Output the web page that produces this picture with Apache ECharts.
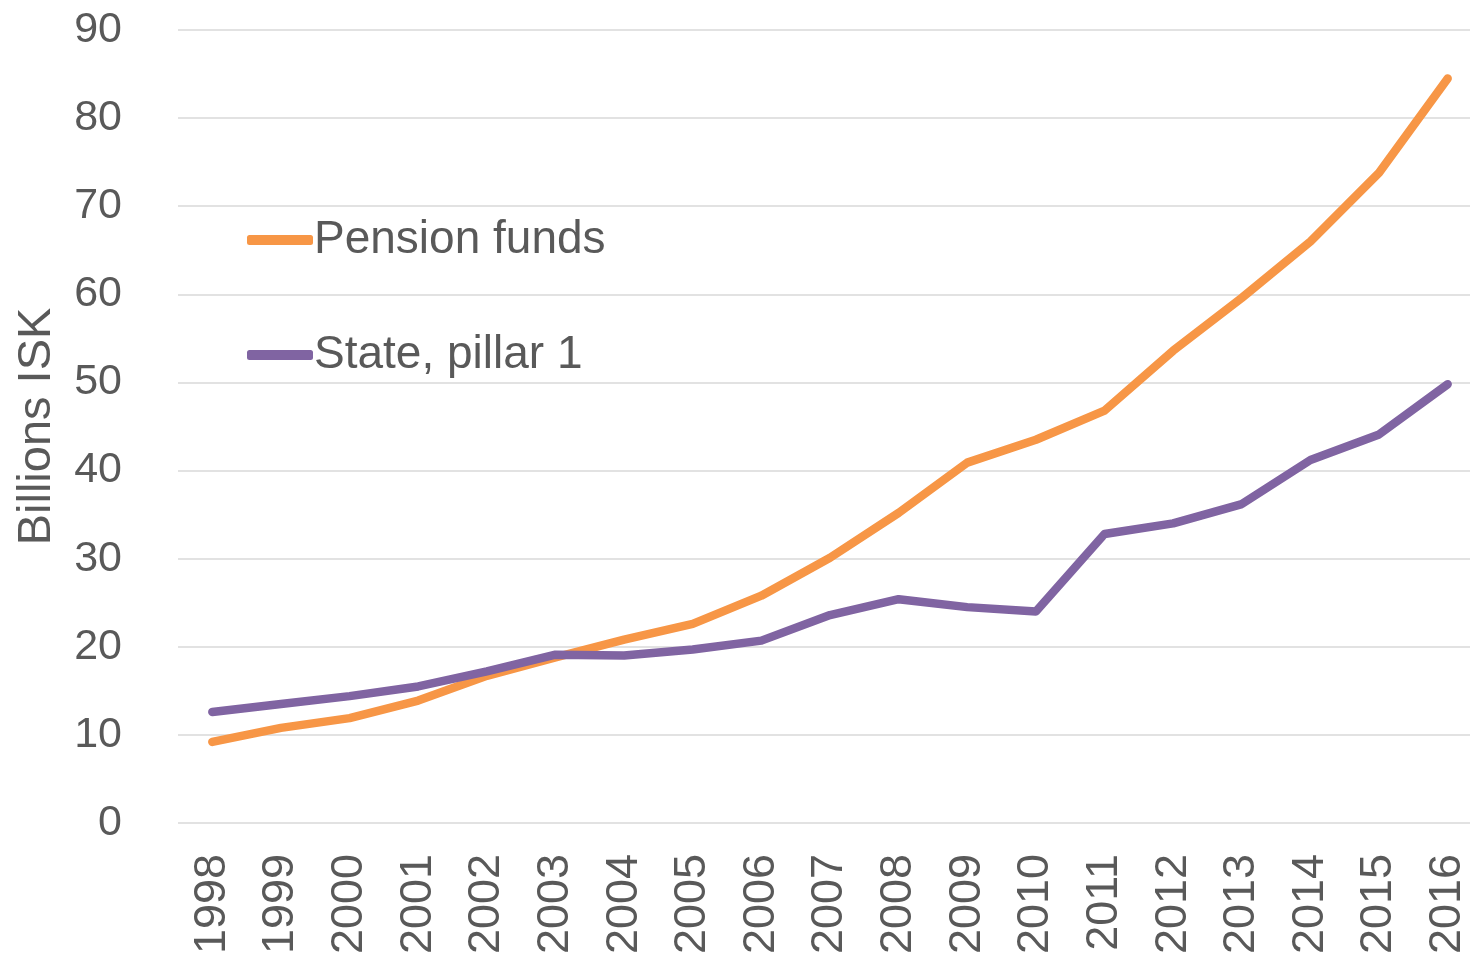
<!DOCTYPE html>
<html>
<head>
<meta charset="utf-8">
<script src="https://cdn.jsdelivr.net/npm/echarts@6/dist/echarts.min.js"></script>
<style>
html,body{margin:0;padding:0;background:#fff;}
#chart{width:1470px;height:961px;}
</style>
</head>
<body>
<div id="chart"></div>
<script>
const years = ['1998','1999','2000','2001','2002','2003','2004','2005','2006','2007','2008','2009','2010','2011','2012','2013','2014','2015','2016'];
const pensionFunds = [9.2, 10.8, 11.9, 13.9, 16.7, 18.8, 20.8, 22.6, 25.8, 30.1, 35.2, 40.9, 43.5, 46.8, 53.6, 59.6, 66.0, 73.8, 84.5];
const statePillar1 = [12.6, 13.5, 14.4, 15.5, 17.2, 19.1, 19.0, 19.7, 20.7, 23.6, 25.4, 24.5, 24.0, 32.8, 34.0, 36.2, 41.2, 44.1, 49.8];
const yTicks = { min: 0, max: 90, interval: 10 };

const FONT = 'Liberation Sans, Arial, sans-serif';
const chart = echarts.init(document.getElementById('chart'));
chart.setOption({
  animation: false,
  backgroundColor: '#ffffff',
  grid: { left: 178, right: -12, top: 30, bottom: 138, containLabel: false, outerBoundsMode: 'none' },
  legend: {
    orient: 'vertical',
    left: 242,
    top: 212,
    itemGap: 69,
    itemWidth: 66,
    itemHeight: 10,
    icon: 'roundRect',
    textStyle: { fontFamily: FONT, fontSize: 46, color: '#595959', padding: [0, 0, 0, -4] },
    data: ['Pension funds', 'State, pillar 1']
  },
  xAxis: {
    type: 'category',
    data: years,
    boundaryGap: true,
    axisLine: { show: false },
    axisTick: { show: false },
    axisLabel: {
      rotate: 90,
      margin: 31,
      interval: 0,
      fontFamily: FONT,
      fontSize: 45,
      color: '#595959'
    }
  },
  yAxis: {
    type: 'value',
    min: yTicks.min,
    max: yTicks.max,
    interval: yTicks.interval,
    name: 'Billions ISK',
    nameLocation: 'middle',
    nameRotate: 90,
    nameGap: 117,
    nameTextStyle: { fontFamily: FONT, fontSize: 47, color: '#595959' },
    axisLine: { show: false },
    axisTick: { show: false },
    axisLabel: {
      margin: 56,
      fontFamily: FONT,
      fontSize: 43,
      color: '#595959'
    },
    splitLine: { lineStyle: { color: '#D9D9D9', width: 1.5 } }
  },
  series: [
    {
      name: 'Pension funds',
      type: 'line',
      data: pensionFunds,
      showSymbol: false,
      symbol: 'none',
      lineStyle: { color: '#F79646', width: 8.5, cap: 'round', join: 'round' },
      itemStyle: { color: '#F79646' },
      z: 2
    },
    {
      name: 'State, pillar 1',
      type: 'line',
      data: statePillar1,
      showSymbol: false,
      symbol: 'none',
      lineStyle: { color: '#8064A2', width: 8.5, cap: 'round', join: 'round' },
      itemStyle: { color: '#8064A2' },
      z: 3
    }
  ]
});
</script>
</body>
</html>
